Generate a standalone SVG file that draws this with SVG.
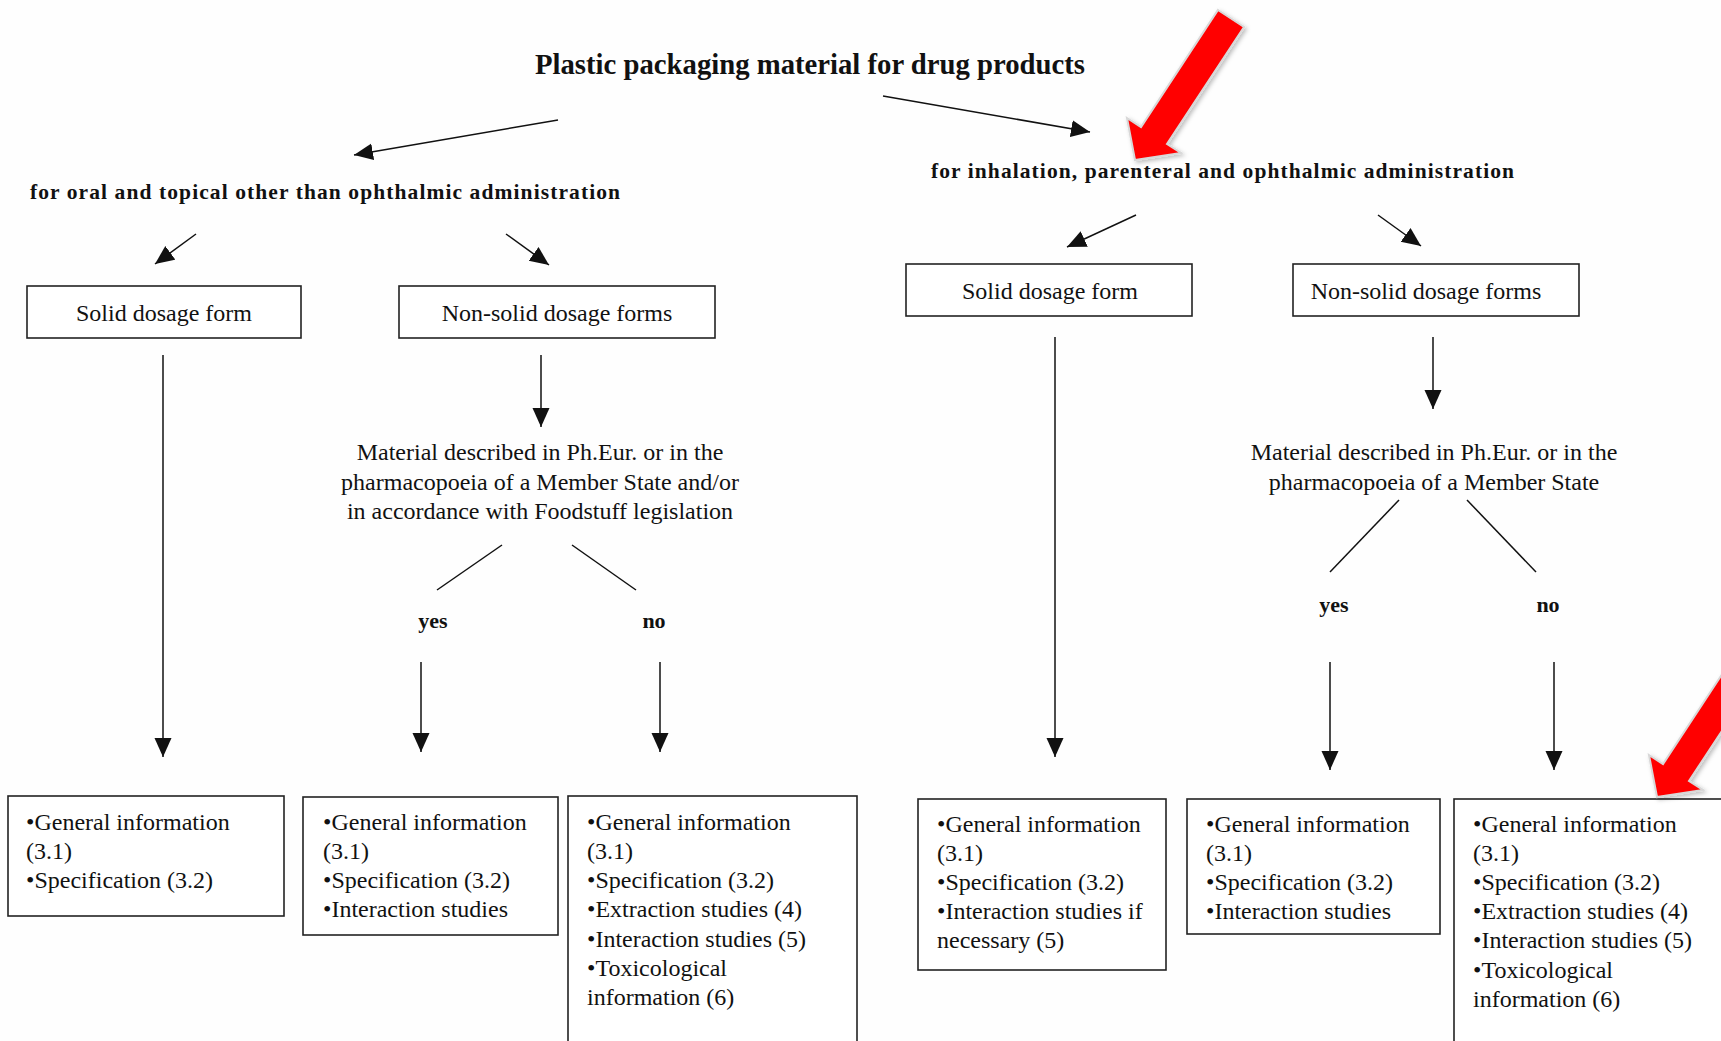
<svg xmlns="http://www.w3.org/2000/svg" width="1721" height="1041" viewBox="0 0 1721 1041">
<style>
.t{font-family:"Liberation Serif","Times New Roman",serif;fill:#111;font-size:24px}
.h{font-weight:bold}
.ttl{font-size:29px;font-weight:bold}
.sub{font-size:21.5px;font-weight:bold}
.yn{font-size:22px;font-weight:bold}
.box{fill:#fff;stroke:#222;stroke-width:1.6}
.c{stroke:#111;stroke-width:1.5;fill:none}
.red{fill:#ff0000;stroke:#d8d8d8;stroke-width:2;stroke-linejoin:miter}
</style>
<defs>
<marker id="ah" markerUnits="userSpaceOnUse" markerWidth="20" markerHeight="18" refX="19" refY="8.5" orient="auto">
<path d="M0,0 L19,8.5 L0,17 z" fill="#111"/>
</marker>
<filter id="sh" x="-20%" y="-20%" width="140%" height="140%">
<feDropShadow dx="2" dy="2" stdDeviation="2" flood-color="#000" flood-opacity="0.25"/>
</filter>
</defs>
<rect width="1721" height="1041" fill="#fefefe"/>

<g id="connectors">
<line class="c" x1="558" y1="120" x2="354" y2="155" marker-end="url(#ah)"/>
<line class="c" x1="883" y1="96" x2="1090" y2="132" marker-end="url(#ah)"/>
<line class="c" x1="196" y1="234" x2="155" y2="264" marker-end="url(#ah)"/>
<line class="c" x1="506" y1="234" x2="549" y2="265" marker-end="url(#ah)"/>
<line class="c" x1="1136" y1="215" x2="1067" y2="247" marker-end="url(#ah)"/>
<line class="c" x1="1378" y1="215" x2="1421" y2="246" marker-end="url(#ah)"/>
<line class="c" x1="163" y1="355" x2="163" y2="757" marker-end="url(#ah)"/>
<line class="c" x1="541" y1="355" x2="541" y2="427" marker-end="url(#ah)"/>
<line class="c" x1="502" y1="545" x2="437" y2="590"/>
<line class="c" x1="572" y1="545" x2="636" y2="590"/>
<line class="c" x1="421" y1="662" x2="421" y2="752" marker-end="url(#ah)"/>
<line class="c" x1="660" y1="662" x2="660" y2="752" marker-end="url(#ah)"/>
<line class="c" x1="1055" y1="337" x2="1055" y2="757" marker-end="url(#ah)"/>
<line class="c" x1="1433" y1="337" x2="1433" y2="409" marker-end="url(#ah)"/>
<line class="c" x1="1399" y1="500" x2="1330" y2="572"/>
<line class="c" x1="1467" y1="500" x2="1536" y2="572"/>
<line class="c" x1="1330" y1="662" x2="1330" y2="770" marker-end="url(#ah)"/>
<line class="c" x1="1554" y1="662" x2="1554" y2="770" marker-end="url(#ah)"/>
</g>

<g id="title"><text class="t ttl" x="535" y="74" textLength="550" lengthAdjust="spacingAndGlyphs">Plastic packaging material for drug products</text></g>
<g id="sub-left"><text class="t sub" x="30" y="199" textLength="590" lengthAdjust="spacing">for oral and topical other than ophthalmic administration</text></g>
<g id="sub-right"><text class="t sub" x="931" y="178" textLength="583" lengthAdjust="spacing">for inhalation, parenteral and ophthalmic administration</text></g>

<g id="solid-left"><rect class="box" x="27" y="286" width="274" height="52"/><text class="t" x="164" y="321" text-anchor="middle">Solid dosage form</text></g>
<g id="nonsolid-left"><rect class="box" x="399" y="286" width="316" height="52"/><text class="t" x="557" y="321" text-anchor="middle">Non-solid dosage forms</text></g>
<g id="solid-right"><rect class="box" x="906" y="264" width="286" height="52"/><text class="t" x="1050" y="299" text-anchor="middle">Solid dosage form</text></g>
<g id="nonsolid-right"><rect class="box" x="1293" y="264" width="286" height="52"/><text class="t" x="1426" y="299" text-anchor="middle">Non-solid dosage forms</text></g>

<g id="question-left">
<text class="t" x="540" y="460" text-anchor="middle">Material described in Ph.Eur. or in the</text>
<text class="t" x="540" y="490" text-anchor="middle">pharmacopoeia of a Member State and/or</text>
<text class="t" x="540" y="519" text-anchor="middle">in accordance with Foodstuff legislation</text>
</g>
<g id="question-right">
<text class="t" x="1434" y="460" text-anchor="middle">Material described in Ph.Eur. or in the</text>
<text class="t" x="1434" y="490" text-anchor="middle">pharmacopoeia of a Member State</text>
</g>
<g id="yes-left"><text class="t yn" x="433" y="628" text-anchor="middle">yes</text></g>
<g id="no-left"><text class="t yn" x="654" y="628" text-anchor="middle">no</text></g>
<g id="yes-right"><text class="t yn" x="1334" y="612" text-anchor="middle">yes</text></g>
<g id="no-right"><text class="t yn" x="1548" y="612" text-anchor="middle">no</text></g>

<g id="result-1"><rect class="box" x="8" y="796" width="276" height="120"/>
<text class="t" x="26" y="830">•General information</text>
<text class="t" x="26" y="859">(3.1)</text>
<text class="t" x="26" y="888">•Specification (3.2)</text>
</g>
<g id="result-2"><rect class="box" x="303" y="797" width="255" height="138"/>
<text class="t" x="323" y="830">•General information</text>
<text class="t" x="323" y="859">(3.1)</text>
<text class="t" x="323" y="888">•Specification (3.2)</text>
<text class="t" x="323" y="917">•Interaction studies</text>
</g>
<g id="result-3"><rect class="box" x="568" y="796" width="289" height="260"/>
<text class="t" x="587" y="830">•General information</text>
<text class="t" x="587" y="859">(3.1)</text>
<text class="t" x="587" y="888">•Specification (3.2)</text>
<text class="t" x="587" y="917">•Extraction studies (4)</text>
<text class="t" x="587" y="947">•Interaction studies (5)</text>
<text class="t" x="587" y="976">•Toxicological</text>
<text class="t" x="587" y="1005">information (6)</text>
</g>
<g id="result-4"><rect class="box" x="918" y="799" width="248" height="171"/>
<text class="t" x="937" y="832">•General information</text>
<text class="t" x="937" y="861">(3.1)</text>
<text class="t" x="937" y="890">•Specification (3.2)</text>
<text class="t" x="937" y="919">•Interaction studies if</text>
<text class="t" x="937" y="948">necessary (5)</text>
</g>
<g id="result-5"><rect class="box" x="1187" y="799" width="253" height="135"/>
<text class="t" x="1206" y="832">•General information</text>
<text class="t" x="1206" y="861">(3.1)</text>
<text class="t" x="1206" y="890">•Specification (3.2)</text>
<text class="t" x="1206" y="919">•Interaction studies</text>
</g>
<g id="result-6"><rect class="box" x="1454" y="799" width="280" height="260"/>
<text class="t" x="1473" y="832">•General information</text>
<text class="t" x="1473" y="861">(3.1)</text>
<text class="t" x="1473" y="890">•Specification (3.2)</text>
<text class="t" x="1473" y="919">•Extraction studies (4)</text>
<text class="t" x="1473" y="948">•Interaction studies (5)</text>
<text class="t" x="1473" y="978">•Toxicological</text>
<text class="t" x="1473" y="1007">information (6)</text>
</g>

<g id="annotations" filter="url(#sh)">
<polygon class="red" points="1218,10 1244,27 1167,144 1181,153 1135,160 1127,118 1141,127"/>
<polygon class="red" points="1740,647 1766,664 1689,781 1703,790 1657,797 1649,755 1663,764"/>
</g>
</svg>
